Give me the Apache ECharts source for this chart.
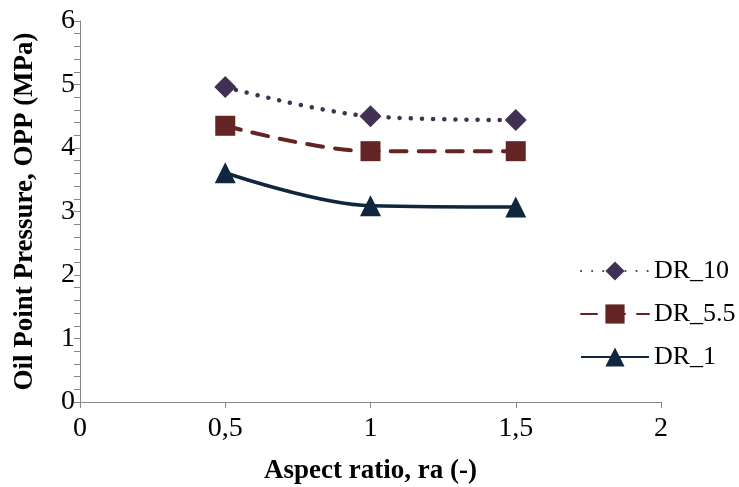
<!DOCTYPE html>
<html><head><meta charset="utf-8">
<script src="https://cdn.jsdelivr.net/npm/echarts@6/dist/echarts.min.js"></script>
<style>html,body{margin:0;padding:0;background:#fff}#c{width:739px;height:487px}</style>
</head><body><div id="c"></div>
<script>
var xValues = [0.5, 1, 1.5];
var dr10 = [4.96, 4.50, 4.44];
var dr55 = [4.35, 3.95, 3.95];
var dr1 = [3.61, 3.09, 3.07];
var seriesNames = ['DR_10', 'DR_5.5', 'DR_1'];

function pairs(ys){ return xValues.map(function(x,i){ return [x, ys[i]]; }); }
var font = 'Liberation Serif';
var chart = echarts.init(document.getElementById('c'));
chart.setOption({
  animation: false,
  grid: {left: 80, right: 78, top: 21, bottom: 85, outerBoundsMode: 'none', containLabel: false},
  legend: {
    orient: 'vertical', left: 575, top: 253, itemWidth: 68, itemHeight: 24, itemGap: 17,
    textStyle: {fontFamily: font, fontSize: 26, color: '#000'},
    data: seriesNames
  },
  xAxis: {
    type: 'value', min: 0, max: 2, interval: 0.5,
    name: 'Aspect ratio, ra (-)', nameLocation: 'middle', nameGap: 56,
    nameTextStyle: {fontFamily: font, fontSize: 27, fontWeight: 'bold', color: '#000'},
    axisLine: {onZero: false, lineStyle: {color: '#868686', width: 1}},
    axisTick: {show: true, length: 6, lineStyle: {color: '#868686'}},
    axisLabel: {fontFamily: font, fontSize: 28, color: '#000', margin: 13,
      formatter: function(v){ return String(v).replace('.', ','); }},
    splitLine: {show: false}
  },
  yAxis: {
    type: 'value', min: 0, max: 6, interval: 1,
    name: 'Oil Point Pressure, OPP (MPa)', nameLocation: 'middle', nameGap: 41,
    nameTextStyle: {fontFamily: font, fontSize: 27, fontWeight: 'bold', color: '#000'},
    axisLine: {show: true, lineStyle: {color: '#868686', width: 1}},
    axisTick: {show: true, length: 6, lineStyle: {color: '#868686'}},
    minorTick: {show: true, splitNumber: 5, length: 6, lineStyle: {color: '#868686'}},
    axisLabel: {fontFamily: font, fontSize: 28, color: '#000', margin: 5},
    splitLine: {show: false}
  },
  series: [
    {name: seriesNames[0], type: 'line', smooth: 0.35, data: pairs(dr10),
      symbol: 'diamond', symbolSize: 22,
      lineStyle: {color: '#403152', width: 4.5, type: [0.1, 11], cap: 'round'},
      itemStyle: {color: '#403152'}},
    {name: seriesNames[1], type: 'line', smooth: 0.35, data: pairs(dr55),
      symbol: 'rect', symbolSize: 20,
      lineStyle: {color: '#632523', width: 4, type: [16, 12], cap: 'round'},
      itemStyle: {color: '#632523'}},
    {name: seriesNames[2], type: 'line', smooth: 0.35, data: pairs(dr1),
      symbol: 'triangle', symbolSize: 21,
      lineStyle: {color: '#10263f', width: 3.5},
      itemStyle: {color: '#10263f'}}
  ]
});
</script></body></html>
